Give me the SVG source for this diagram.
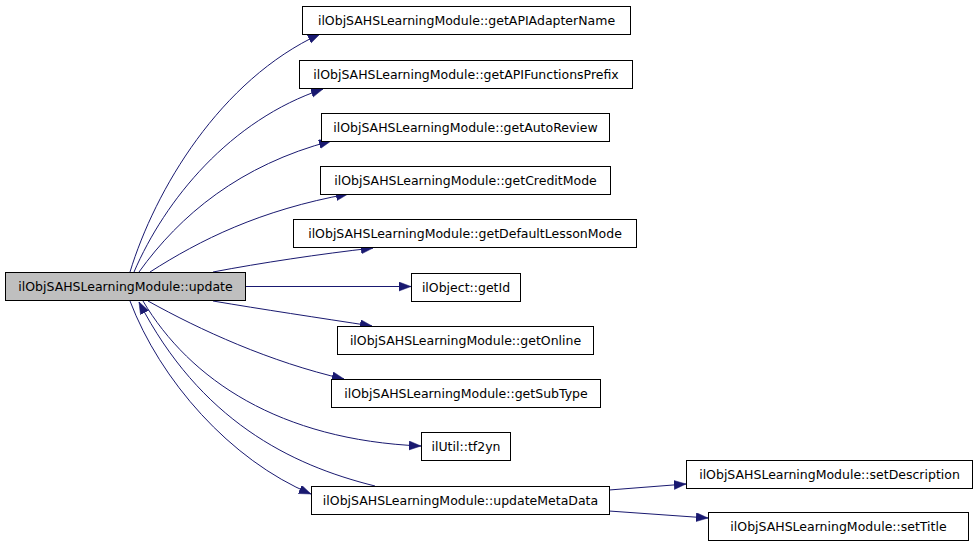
<svg xmlns="http://www.w3.org/2000/svg" width="979" height="547" viewBox="0 0 979 547">
<style>
  .node rect { fill: #ffffff; stroke: #000000; stroke-width: 1; }
  .node.root rect { fill: #bfbfbf; }
  .node text { font-family: "DejaVu Sans", sans-serif; font-size: 12.5px; fill: #000000; text-anchor: middle; }
  .edges path { fill: none; stroke: #191970; stroke-width: 1; marker-end: url(#arrow); }
</style>
<defs>
  <marker id="arrow" markerUnits="userSpaceOnUse" markerWidth="13" markerHeight="10" refX="12" refY="4.5" orient="auto">
    <path d="M0,0 L12,4.5 L0,9 z" fill="#191970" stroke="#191970" stroke-width="0.5"/>
  </marker>
</defs>
<rect width="979" height="547" fill="#ffffff"/>
<g class="edges" id="edges">
  <path d="M130,272 C155,190 220,80 320,34"/>
  <path d="M134,272 C165,200 230,120 323,89"/>
  <path d="M139,272 C180,215 240,165 331,141"/>
  <path d="M150,272 C200,240 260,210 348,194"/>
  <path d="M213,272 C260,263 320,254 373,248"/>
  <path d="M245,286.5 L411,286.5"/>
  <path d="M213,301 C260,309 320,318 372,326"/>
  <path d="M148,301 C200,330 270,362 344,379"/>
  <path d="M143,301 C190,380 280,440 421,446"/>
  <path d="M130,301 C160,380 230,460 311,494"/>
  <path d="M375,486 C290,465 200,420 139,302"/>
  <path d="M609,490 L686,484"/>
  <path d="M609,511 L708,518"/>
</g>
<g class="node root" id="node-update">
  <rect x="5.5" y="272.5" width="240" height="28"/>
  <text x="125.5" y="290.5">ilObjSAHSLearningModule::update</text>
</g>
<g class="node" id="node-getAPIAdapterName">
  <rect x="302.5" y="6.5" width="328" height="28"/>
  <text x="466.5" y="24.5">ilObjSAHSLearningModule::getAPIAdapterName</text>
</g>
<g class="node" id="node-getAPIFunctionsPrefix">
  <rect x="299.5" y="60.5" width="333" height="28"/>
  <text x="466" y="78.5">ilObjSAHSLearningModule::getAPIFunctionsPrefix</text>
</g>
<g class="node" id="node-getAutoReview">
  <rect x="321.5" y="113.5" width="288" height="28"/>
  <text x="465.5" y="131.5">ilObjSAHSLearningModule::getAutoReview</text>
</g>
<g class="node" id="node-getCreditMode">
  <rect x="320.5" y="166.5" width="290" height="28"/>
  <text x="465.5" y="184.5">ilObjSAHSLearningModule::getCreditMode</text>
</g>
<g class="node" id="node-getDefaultLessonMode">
  <rect x="293.5" y="219.5" width="343" height="28"/>
  <text x="465" y="237.5">ilObjSAHSLearningModule::getDefaultLessonMode</text>
</g>
<g class="node" id="node-getId">
  <rect x="411.5" y="273.5" width="109" height="28"/>
  <text x="466" y="291.5">ilObject::getId</text>
</g>
<g class="node" id="node-getOnline">
  <rect x="337.5" y="326.5" width="256" height="28"/>
  <text x="465.5" y="344.5">ilObjSAHSLearningModule::getOnline</text>
</g>
<g class="node" id="node-getSubType">
  <rect x="331.5" y="379.5" width="269" height="28"/>
  <text x="466" y="397.5">ilObjSAHSLearningModule::getSubType</text>
</g>
<g class="node" id="node-tf2yn">
  <rect x="421.5" y="432.5" width="89" height="28"/>
  <text x="466" y="450.5">ilUtil::tf2yn</text>
</g>
<g class="node" id="node-updateMetaData">
  <rect x="311.5" y="486.5" width="298" height="28"/>
  <text x="460.5" y="504.5">ilObjSAHSLearningModule::updateMetaData</text>
</g>
<g class="node" id="node-setDescription">
  <rect x="686.5" y="460.5" width="286" height="28"/>
  <text x="829.5" y="478.5">ilObjSAHSLearningModule::setDescription</text>
</g>
<g class="node" id="node-setTitle">
  <rect x="708.5" y="512.5" width="260" height="28"/>
  <text x="838.5" y="530.5">ilObjSAHSLearningModule::setTitle</text>
</g>
</svg>
